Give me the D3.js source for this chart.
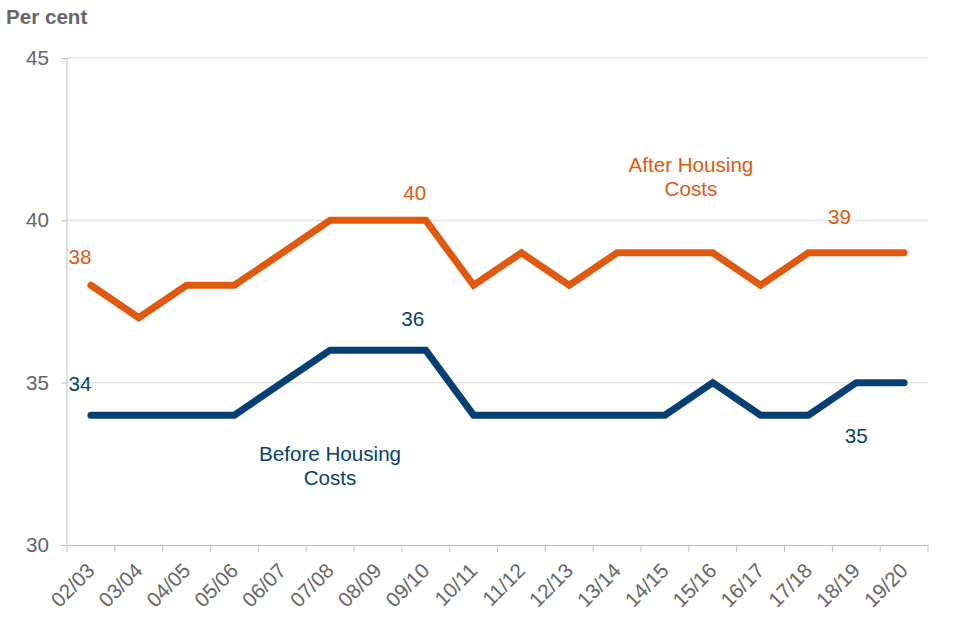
<!DOCTYPE html>
<html>
<head>
<meta charset="utf-8">
<script src="https://cdn.jsdelivr.net/npm/d3@7"></script>
<style>
	body { margin: 0; background: #fff; }
	text { font-family: "Liberation Sans", Arial, sans-serif; }
	.axis path, .axis line { stroke: #bfbfbf; }
	.axis text { fill: #666; font-size: 20.6px; }
	.grid line { stroke: #dcdcdc; }
</style>
</head>
<body>
<div id="chart"></div>
<script>
// data
var years = ["02/03", "03/04", "04/05", "05/06", "06/07", "07/08", "08/09", "09/10", "10/11",
	"11/12", "12/13", "13/14", "14/15", "15/16", "16/17", "17/18", "18/19", "19/20"];
var afterHousing = [38, 37, 38, 38, 39, 40, 40, 40, 38, 39, 38, 39, 39, 39, 38, 39, 39, 39];
var beforeHousing = [34, 34, 34, 34, 35, 36, 36, 36, 34, 34, 34, 34, 34, 35, 34, 34, 35, 35];
var yTicks = [30, 35, 40, 45];

// value labels: which year, which series, offset from the point
var valueLabels = [
	{ series: "after", i: 0, dx: -11, dy: -21 },
	{ series: "after", i: 7, dx: -11, dy: -20 },
	{ series: "after", i: 15, dx: 31, dy: -29 },
	{ series: "before", i: 0, dx: -11, dy: -24 },
	{ series: "before", i: 7, dx: -13, dy: -24 },
	{ series: "before", i: 16, dx: 0, dy: 60 }
];

var orange = "#e0590f";
var blue = "#053f74";

//SVG setup
var margin = { top: 58, right: 32, bottom: 95, left: 67 };
var width = 960 - margin.left - margin.right;
var height = 640 - margin.top - margin.bottom;

var root = d3.select("#chart")
	.append("svg")
	.attr("width", 960)
	.attr("height", 640);

root.append("text")
	.attr("x", 6)
	.attr("y", 24)
	.attr("fill", "#666")
	.attr("font-size", "20.6px")
	.attr("font-weight", "bold")
	.text("Per cent");

var svg = root.append("g")
	.attr("transform", "translate(" + margin.left + "," + margin.top + ")");

//Scales
var x = d3.scaleBand()
	.domain(years)
	.range([0, width])
	.padding(0);

var y = d3.scaleLinear()
	.domain([30, 45])
	.range([height, 0]);

var cx = function(i) { return x(years[i]) + x.bandwidth() / 2; };

//Grid lines
svg.append("g")
	.attr("class", "grid")
	.selectAll("line")
	.data(yTicks.slice(1))
	.enter()
	.append("line")
	.attr("x1", 0)
	.attr("x2", width)
	.attr("y1", function(d) { return y(d); })
	.attr("y2", function(d) { return y(d); });

//y axis
svg.append("g")
	.attr("class", "y axis")
	.call(d3.axisLeft(y).tickValues(yTicks).tickSize(6).tickPadding(12).tickSizeOuter(0))
	.call(function(g) { g.select(".domain").attr("d", "M0," + y(45) + "V" + height); });

//x axis: labels only, ticks drawn at band edges below
var xAxis = svg.append("g")
	.attr("class", "x axis")
	.attr("transform", "translate(0," + height + ")")
	.call(d3.axisBottom(x).tickSize(0).tickSizeOuter(0));

xAxis.selectAll(".tick text")
	.attr("y", 0)
	.attr("dy", 0)
	.attr("text-anchor", "end")
	.attr("transform", "translate(5,27) rotate(-45)");

xAxis.selectAll(".edge")
	.data(years.map(function(d) { return x(d); }).concat([width]))
	.enter()
	.append("line")
	.attr("class", "edge")
	.attr("x1", function(d) { return d; })
	.attr("x2", function(d) { return d; })
	.attr("y1", 0)
	.attr("y2", 7);

//Lines
var line = d3.line()
	.x(function(d, i) { return cx(i); })
	.y(function(d) { return y(d); });

svg.append("path")
	.datum(afterHousing)
	.attr("fill", "none")
	.attr("stroke", orange)
	.attr("stroke-width", 7)
	.attr("stroke-linecap", "round")
	.attr("d", line);

svg.append("path")
	.datum(beforeHousing)
	.attr("fill", "none")
	.attr("stroke", blue)
	.attr("stroke-width", 7)
	.attr("stroke-linecap", "round")
	.attr("d", line);

//Value labels
svg.selectAll(".value")
	.data(valueLabels)
	.enter()
	.append("text")
	.attr("class", "value")
	.attr("text-anchor", "middle")
	.attr("font-size", "20.6px")
	.attr("fill", function(d) { return d.series == "after" ? orange : blue; })
	.attr("x", function(d) { return cx(d.i) + d.dx; })
	.attr("y", function(d) {
		var v = d.series == "after" ? afterHousing[d.i] : beforeHousing[d.i];
		return y(v) + d.dy;
	})
	.text(function(d) { return d.series == "after" ? afterHousing[d.i] : beforeHousing[d.i]; });

//Series names
var seriesNames = [
	{ lines: ["After Housing", "Costs"], color: orange, i: 12, dx: 26, value: 41.5 },
	{ lines: ["Before Housing", "Costs"], color: blue, i: 5, dx: 0, value: 32.6 }
];

seriesNames.forEach(function(s) {
	var t = svg.append("text")
		.attr("text-anchor", "middle")
		.attr("font-size", "20.6px")
		.attr("fill", s.color)
		.attr("y", y(s.value));
	s.lines.forEach(function(l, k) {
		t.append("tspan")
			.attr("x", cx(s.i) + s.dx)
			.attr("dy", k == 0 ? 0 : 24)
			.text(l);
	});
});
</script>
</body>
</html>
